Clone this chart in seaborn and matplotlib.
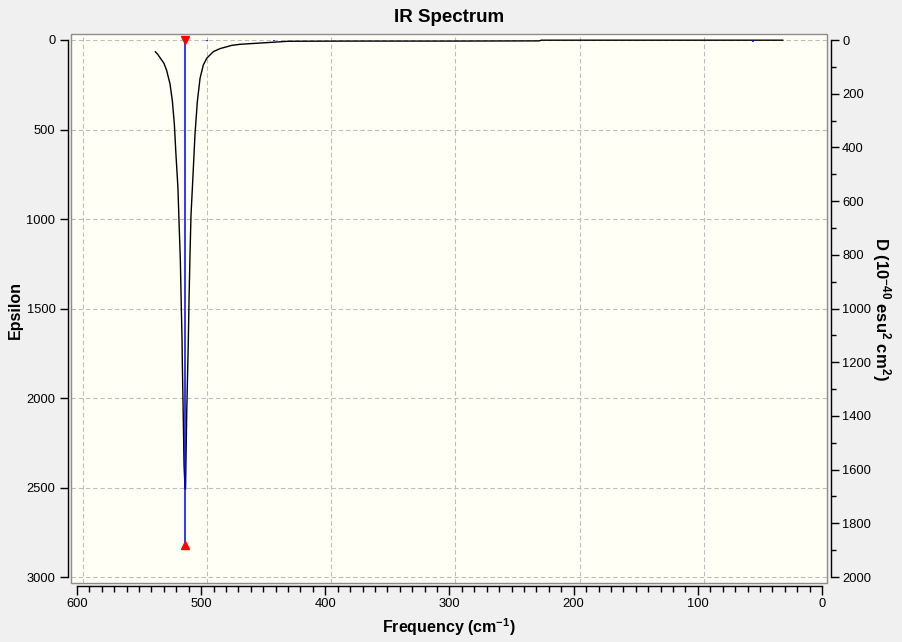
import numpy as np
import pandas as pd
import matplotlib
matplotlib.use("Agg")
import matplotlib.pyplot as plt
import seaborn as sns
from matplotlib.ticker import MultipleLocator
from matplotlib.patches import Rectangle

# ---- data ----
# broadened spectrum (Epsilon vs frequency)
curve_freq = [537.0, 535.0, 533.2, 530.0, 527.8, 525.1, 523.2, 521.6, 520.3, 518.7,
              517.9, 516.8, 516.0, 515.4, 515.2, 514.4, 513.8, 513.0, 512.6,
              512.2, 511.6, 510.4, 509.8, 509.0, 508.2, 507.1, 505.0, 503.1,
              500.9, 498.3, 495.5, 490.2, 484.8, 481.6, 475.4, 468.7, 443.2,
              429.8, 380.0, 300.0, 228.0, 226.0, 150.0, 80.0, 31.4]
curve_eps = [65, 80, 98, 130, 170, 245, 340, 470, 640, 827,
             1002, 1223, 1490, 1676, 1788, 2112, 2374, 2503, 2510,
             2330, 2070, 1700, 1460, 1200, 980, 830, 531, 345,
             214, 140, 102, 65, 48, 42, 30, 24, 13,
             7, 6, 6, 5, 1, 1, 1, 1]

# stick intensities (right axis, D)
stick_freq = [512.7, 495.5, 441.0, 55.6]
stick_D = [1880, 3, 3, 6]
selected = 0  # highlighted mode (red markers)

x_ticks = [600, 500, 400, 300, 200, 100, 0]

# ---- style ----
sns.set_style("white")
plt.rcParams['font.family'] = ['Liberation Sans', 'DejaVu Sans']
plt.rcParams['text.color'] = 'black'
plt.rcParams['xtick.color'] = 'black'
plt.rcParams['ytick.color'] = 'black'
plt.rcParams['mathtext.fontset'] = 'custom'
plt.rcParams['mathtext.rm'] = 'Liberation Sans:bold'
plt.rcParams['mathtext.default'] = 'rm'

W, H = 902, 642
fig = plt.figure(figsize=(W / 100, H / 100), dpi=100, facecolor='#F0F0F0')

# yellow plot box: x 71..827, y 34..583 (pixels)
ax = fig.add_axes([71 / W, 1 - 583 / H, 756 / W, 549 / H])
ax.set_facecolor('#FFFFF5')

sx = 745 / 600   # px per cm-1
sy = 537 / 3000  # px per epsilon unit
ax.set_xlim(600 + 6 / sx, 0 - 5 / sx)
ax.set_ylim(3000 + 6 / sy, -6 / sy)

df = pd.DataFrame({'freq': curve_freq, 'eps': curve_eps})
sns.lineplot(data=df, x='freq', y='eps', ax=ax, color='black', lw=1.0,
             estimator=None, sort=False)

# grid (vertical lines sit a few pixels right of the ticks, as in the original)
grid_kw = dict(color='#BDBDBD', lw=0.8, ls=(0, (4, 2.5)), zorder=0)
for v in x_ticks[:-1]:
    ax.axvline(v - 6 / sx, **grid_kw)
for v in range(0, 3001, 500):
    ax.axhline(v, **grid_kw)

# axes: left and bottom detached from the box
ax.set_xticks(x_ticks)
ax.xaxis.set_minor_locator(MultipleLocator(10))
ax.set_yticks(range(0, 3001, 500))
for s in ['top', 'right']:
    ax.spines[s].set_visible(False)
ax.spines['left'].set_position(('outward', 2.2))
ax.spines['bottom'].set_position(('outward', 2.2))
ax.spines['left'].set_bounds(0, 3000)
ax.spines['bottom'].set_bounds(0, 600)
for s in ['left', 'bottom']:
    ax.spines[s].set_color('black')
    ax.spines[s].set_linewidth(1.0)
ax.tick_params(axis='y', which='major', direction='out', length=6, width=1,
               labelsize=9.3, pad=3, left=True)
ax.tick_params(axis='x', which='major', direction='out', length=6.5, width=1,
               labelsize=9.3, pad=2, bottom=True)
ax.tick_params(axis='x', which='minor', direction='out', length=4.3, width=1,
               bottom=True)
ax.set_xlabel('')
ax.set_ylabel('')

# right axis: D
ax2 = ax.twinx()
sy2 = 537 / 2000
ax2.set_ylim(2000 + 6 / sy2, -6 / sy2)
ax2.vlines(stick_freq, 0, stick_D, color='#0000FF', lw=1.1)
ax2.plot([stick_freq[selected]], [0], marker='v', color='#FF0000', ms=5.5, ls='none')
ax2.plot([stick_freq[selected]], [stick_D[selected]], marker='^', color='#FF0000',
         ms=5.5, ls='none')
ax2.set_yticks(range(0, 2001, 200))
ax2.yaxis.set_minor_locator(MultipleLocator(100))
for s in ['top', 'left', 'bottom']:
    ax2.spines[s].set_visible(False)
ax2.spines['right'].set_position(('outward', 2.9))
ax2.spines['right'].set_bounds(0, 2000)
ax2.spines['right'].set_color('black')
ax2.spines['right'].set_linewidth(1.0)
ax2.tick_params(axis='y', which='major', direction='out', length=6, width=1,
                labelsize=9.3, pad=2, right=True)
ax2.tick_params(axis='y', which='minor', direction='out', length=3.8, width=1,
                right=True)

# grey frame of the plot box
ax2.add_patch(Rectangle((0, 0), 1, 1, transform=ax2.transAxes, fill=False,
                        edgecolor='#8C8C8C', lw=1.0, clip_on=False, zorder=5))

# titles
fig.text(449 / W, 1 - 17 / H, 'IR Spectrum', ha='center', va='center',
         fontsize=13.5, fontweight='bold')
fig.text(449 / W, 1 - 627 / H, r'Frequency (cm$^{-1}$)', ha='center', va='center',
         fontsize=11.5, fontweight='bold')
fig.text(15 / W, 1 - 310 / H, 'Epsilon', ha='center', va='center', rotation=90,
         fontsize=11.5, fontweight='bold')
fig.text(881 / W, 1 - 309 / H, r'D (10$^{-40}$ esu$^{2}$ cm$^{2}$)', ha='center',
         va='center', rotation=-90, fontsize=12, fontweight='bold')

fig.savefig('out.png', dpi=100, facecolor=fig.get_facecolor())
